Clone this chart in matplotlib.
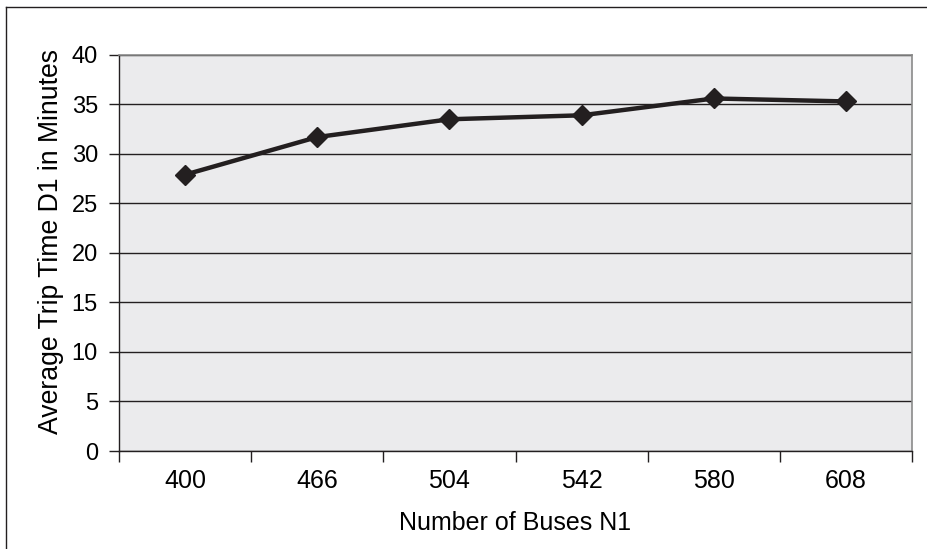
import matplotlib
matplotlib.use("Agg")
import matplotlib.pyplot as plt
from matplotlib.lines import Line2D

buses = ["400", "466", "504", "542", "580", "608"]
trip_time = [27.9, 31.7, 33.5, 33.9, 35.6, 35.3]

plt.rcParams['font.family'] = ['Liberation Sans', 'DejaVu Sans']

fig = plt.figure(figsize=(9.28, 5.49), dpi=100)
ax = fig.add_axes([0.128, 0.1785, 0.855, 0.7215])
ax.set_facecolor('#ebebed')

x = list(range(len(buses)))
ax.plot(x, trip_time, color='#231f20', lw=3.2, marker='D', ms=10,
        markerfacecolor='#231f20', markeredgecolor='#231f20', zorder=3)

ax.set_xlim(-0.5, len(buses) - 0.5)
ax.set_ylim(0, 40)
ax.set_yticks(range(0, 41, 5))
ax.yaxis.grid(True, color='#231f20', lw=1)
ax.set_axisbelow(True)

# category labels centred, tick marks between categories
ax.set_xticks([i - 0.5 for i in range(len(buses) + 1)])
ax.set_xticklabels([])
ax.set_xticks(x, minor=True)
ax.set_xticklabels(buses, minor=True, fontsize=18)
ax.tick_params(axis='x', which='minor', length=0, pad=13)
ax.tick_params(axis='x', which='major', length=8, width=1, color='#231f20')
ax.tick_params(axis='y', length=7, width=1, color='#231f20', labelsize=17, pad=8)

for s in ['top', 'right']:
    ax.spines[s].set_color('#8a8a8a')
    ax.spines[s].set_linewidth(1.2)
for s in ['left', 'bottom']:
    ax.spines[s].set_color('#231f20')
    ax.spines[s].set_linewidth(1)

ax.set_xlabel('Number of Buses N1', fontsize=18, labelpad=13)
ax.set_ylabel('Average Trip Time D1 in Minutes', fontsize=19.2, va='center')
ax.yaxis.set_label_coords(-0.085, 0.53)

# outer frame (only left and top edges are inside the picture)
fig.add_artist(Line2D([6 / 928, 6 / 928], [0, 1 - 7 / 549],
                      transform=fig.transFigure, color='#231f20', lw=1))
fig.add_artist(Line2D([6 / 928, 1], [1 - 7 / 549, 1 - 7 / 549],
                      transform=fig.transFigure, color='#231f20', lw=1))

fig.savefig('out.png', dpi=100)
